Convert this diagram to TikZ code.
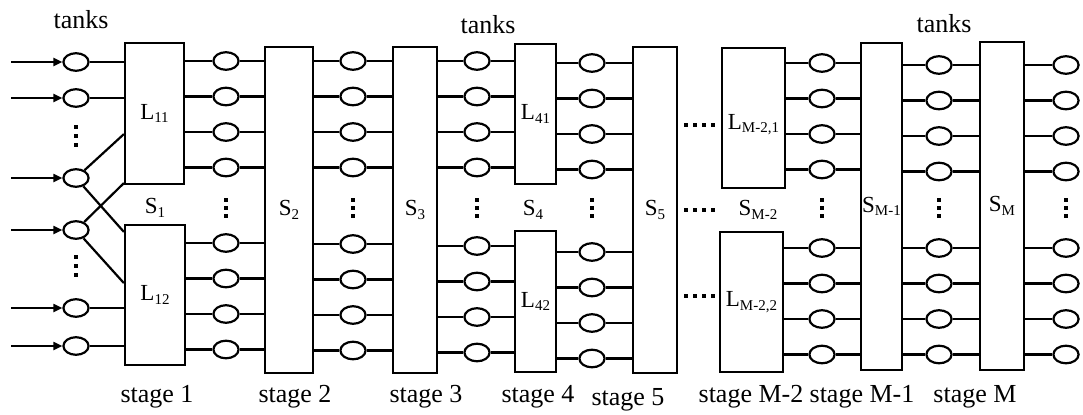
\documentclass[tikz,border=0pt]{standalone}
\usepackage{fontspec}
\setmainfont{Liberation Serif}
\usetikzlibrary{shapes.geometric, arrows.meta, calc}

\newcommand{\lsub}[1]{\raisebox{-0.35ex}{\fontsize{7.5}{8}\selectfont #1}}

\tikzset{
  tank/.style={ellipse, draw, line width=1.1pt, inner sep=0pt,
    minimum width=12.6pt, minimum height=8.8pt},
  box/.style={rectangle, draw, line width=1.1pt, inner sep=0pt,
    font=\fontsize{11.5}{12}\selectfont},
  tag/.style={font=\fontsize{11.5}{12}\selectfont},
  pipe/.style={line width=1.1pt},
  feed/.style={line width=1.1pt, -{Triangle[length=4.5pt,width=4pt]}},
  caption/.style={font=\fontsize{13}{15}\selectfont, anchor=base},
}

\begin{document}
\begin{tikzpicture}[x=0.5pt, y=-0.5pt]
  \useasboundingbox (0,0) rectangle (1083,414);

  % stage boxes
  \node[box, minimum width=29.5pt, minimum height=70.5pt] (L11) at (154.5,113.5) {L\lsub{11}};
  \node[box, minimum width=30pt, minimum height=70pt] (L12) at (155,295) {L\lsub{12}};
  \node[box, minimum width=24pt, minimum height=163pt] (S2) at (289,210) {S\lsub{2}};
  \node[box, minimum width=22pt, minimum height=163pt] (S3) at (415,210) {S\lsub{3}};
  \node[box, minimum width=20.5pt, minimum height=70pt] (L41) at (535.5,114) {L\lsub{41}};
  \node[box, minimum width=20.5pt, minimum height=70.5pt] (L42) at (535.5,301.5) {L\lsub{42}};
  \node[box, minimum width=22pt, minimum height=163pt] (S5) at (655,210) {S\lsub{5}};
  \node[box, minimum width=31.5pt, minimum height=70pt, text height=14pt] (LM21) at (753.5,118) {L\lsub{M-2,1}};
  \node[box, minimum width=31.5pt, minimum height=70pt] (LM22) at (751.5,302) {L\lsub{M-2,2}};
  \node[box, minimum width=20.5pt, minimum height=163.5pt] (SM1) at (881.5,206.5) {S\lsub{M-1}};
  \node[box, minimum width=22pt, minimum height=164pt] (SM) at (1002,206) {S\lsub{M}};

  % free stage tags
  \node[tag] (S1) at (155,208) {S\lsub{1}};
  \node[tag] (S4) at (533,210) {S\lsub{4}};
  \node[tag] (SM2) at (758,210) {S\lsub{M-2}};

  % input tanks
  \foreach \k/\y in {1/62,2/98,3/178,4/230,5/308,6/346}{
    \node[tank] (i\k) at (76,\y) {};
    \draw[feed] ($(i\k.west)+(-51,0)$) -- (i\k.west);
  }
  \draw[pipe] (i1) -- (L11.west |- i1);
  \draw[pipe] (i2) -- (L11.west |- i2);
  \draw[pipe] (i3) -- ($(L11.south west)+(0,-51)$);
  \draw[pipe] (i3) -- ($(L12.north west)+(0,8)$);
  \draw[pipe] (i4) -- ($(L11.south west)+(0,-2)$);
  \draw[pipe] (i4) -- ($(L12.south west)+(0,-83)$);
  \draw[pipe] (i5) -- (L12.west |- i5);
  \draw[pipe] (i6) -- (L12.west |- i6);

  % tanks between stages
  \foreach \n/\x/\t/\b/\la/\lb/\ra/\rb in
    {2/226/61/243/L11/L12/S2/S2, 3/353/61/244/S2/S2/S3/S3,
     4/477/61/246/S3/S3/L41/L42, 5/592/63/252/L41/L42/S5/S5,
     6/822/63/248/LM21/LM22/SM1/SM1, 7/939/65/248/SM1/SM1/SM/SM}{
    \foreach \k in {0,...,3}{
      \node[tank] (t\n-\k) at (\x,\t+35.5*\k) {};
      \node[tank] (b\n-\k) at (\x,\b+35.5*\k) {};
      \draw[pipe] (\la.east |- t\n-\k) -- (t\n-\k) -- (\ra.west |- t\n-\k);
      \draw[pipe] (\lb.east |- b\n-\k) -- (b\n-\k) -- (\rb.west |- b\n-\k);
    }
  }
  \foreach \k in {0,...,3}{
    \node[tank] (t8-\k) at (1066,65+35.5*\k) {};
    \node[tank] (b8-\k) at (1066,248+35.5*\k) {};
    \draw[pipe] (SM.east |- t8-\k) -- (t8-\k);
    \draw[pipe] (SM.east |- b8-\k) -- (b8-\k);
  }

  % dots
  \foreach \y in {127,136,145,257,266,275}
    \fill (76-2.2,\y-2.2) rectangle (76+2.2,\y+2.2);
  \foreach \x in {226,353,477,592,822,939,1066}
    \foreach \y in {200,208,216}
      \fill (\x-2.2,\y-2.2) rectangle (\x+2.2,\y+2.2);
  \foreach \y in {125,210,296}
    \foreach \x in {686,695,704,713}
      \fill (\x-2.2,\y-2.2) rectangle (\x+2.2,\y+2.2);

  % captions
  \node[caption] (tk1) at (81,28) {tanks};
  \node[caption] (tk2) at (488,33) {tanks};
  \node[caption] (tk3) at (944,32) {tanks};
  \foreach \x/\y/\s in {157/402/1, 295/402/2, 426/402/3, 538/402/4, 628/405/5,
                         751/402/M-2, 862/402/M-1, 975/402/M}
    \node[caption] (st\s) at (\x,\y) {stage \s};
\end{tikzpicture}
\end{document}
